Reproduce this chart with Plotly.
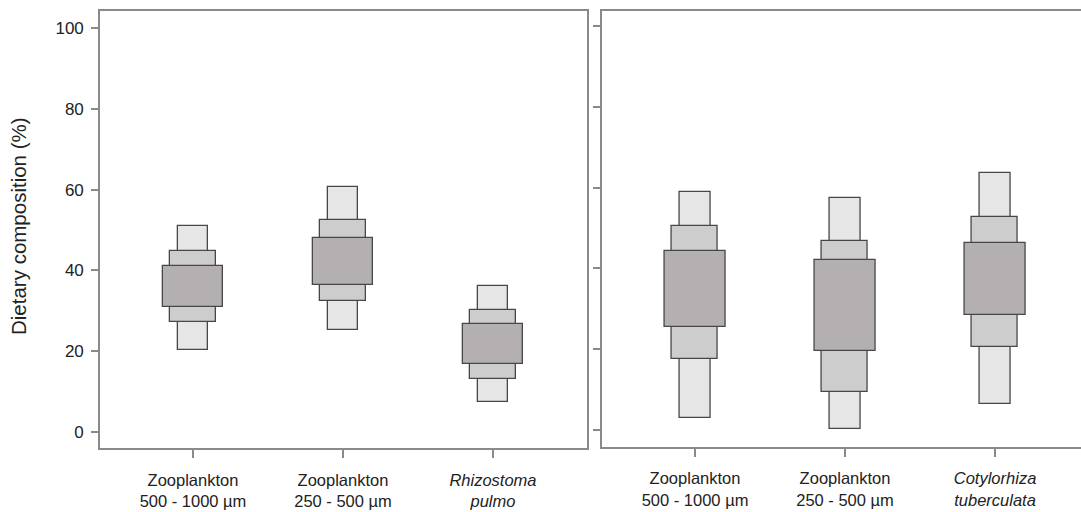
import plotly.graph_objects as go

# ---- data ----
left_cats = ["Zooplankton<br>500 - 1000 µm", "Zooplankton<br>250 - 500 µm", "<i>Rhizostoma</i><br><i>pulmo</i>"]
right_cats = ["Zooplankton<br>500 - 1000 µm", "Zooplankton<br>250 - 500 µm", "<i>Cotylorhiza</i><br><i>tuberculata</i>"]

# outer (lightest), middle, inner (darkest) credible intervals, %
left_outer_low = [20.4, 25.3, 7.4]
left_outer_high = [51.1, 60.7, 36.1]
left_mid_low = [27.2, 32.5, 13.0]
left_mid_high = [44.7, 52.5, 30.1]
left_inner_low = [31.0, 36.4, 16.8]
left_inner_high = [41.0, 48.0, 26.7]

right_outer_low = [2.9, 0.2, 6.5]
right_outer_high = [59.0, 57.3, 63.5]
right_mid_low = [17.5, 9.4, 20.6]
right_mid_high = [50.4, 46.8, 52.6]
right_inner_low = [25.6, 19.6, 28.5]
right_inner_high = [44.3, 42.1, 46.4]

y_ticks = [0, 20, 40, 60, 80, 100]

# ---- styles ----
fills = ["#e6e6e6", "#cdcdcd", "#b4b0b1"]
widths = [0.205, 0.305, 0.405]
edge = "#474747"
axis_col = "#8a8a8a"
txt_col = "#222222"
FONT = "Liberation Sans, Arial, sans-serif"

fig = go.Figure()


def add_panel(cats, lows, highs, xa, ya):
    for lo, hi, col, w in zip(lows, highs, fills, widths):
        fig.add_trace(go.Bar(
            x=cats, y=[h - l for l, h in zip(lo, hi)], base=lo, width=w,
            marker=dict(color=col, line=dict(color=edge, width=1.3)),
            xaxis=xa, yaxis=ya, showlegend=False, hoverinfo="skip"))


add_panel(left_cats,
          [left_outer_low, left_mid_low, left_inner_low],
          [left_outer_high, left_mid_high, left_inner_high], "x", "y")
add_panel(right_cats,
          [right_outer_low, right_mid_low, right_inner_low],
          [right_outer_high, right_mid_high, right_inner_high], "x2", "y2")

W, H = 1081, 512
L, R, T, B = 100, 0, 11, 64
pw = W - L - R
ph = H - T - B

xcommon = dict(type="category", showline=True, linecolor=axis_col, linewidth=1.6,
               mirror=True, ticks="outside", ticklen=8, tickwidth=1.5, tickcolor=axis_col,
               showgrid=False, zeroline=False,
               tickfont=dict(family=FONT, size=16.5, color=txt_col),
               ticklabelstandoff=8)

fig.update_layout(
    width=W, height=H,
    margin=dict(l=L, r=R, t=T, b=B),
    paper_bgcolor="white", plot_bgcolor="white",
    barmode="overlay", bargap=0,
    font=dict(family=FONT, color=txt_col),
    xaxis=dict(xcommon, domain=[0, 487 / pw], range=[-0.62, 2.627], anchor="y"),
    xaxis2=dict(xcommon, domain=[501.7 / pw, 1.0], range=[-0.622, 2.573], anchor="y2"),
    yaxis=dict(domain=[0, 1], range=[-3.96, 104.2], anchor="x",
               tickvals=y_ticks, showline=True, mirror=True, linecolor=axis_col, linewidth=1.6,
               ticks="outside", ticklen=7, tickwidth=1.5, tickcolor=axis_col,
               showgrid=False, zeroline=False,
               tickfont=dict(family=FONT, size=17, color=txt_col), ticklabelstandoff=4),
    yaxis2=dict(domain=[(448 - 446.7) / ph, 1], range=[-4.13, 103.7], anchor="x2",
                tickvals=y_ticks, showticklabels=False, showline=True, mirror=False,
                linecolor=axis_col, linewidth=1.6,
                ticks="outside", ticklen=7, tickwidth=1.5, tickcolor=axis_col,
                showgrid=False, zeroline=False),
    annotations=[dict(text="Dietary composition (%)", textangle=-90,
                      xref="paper", yref="paper", x=(18 - L) / pw, y=(448 - 226) / ph,
                      xanchor="center", yanchor="middle", showarrow=False,
                      font=dict(family=FONT, size=20.5, color=txt_col))],
)

fig.write_html("out.html")
